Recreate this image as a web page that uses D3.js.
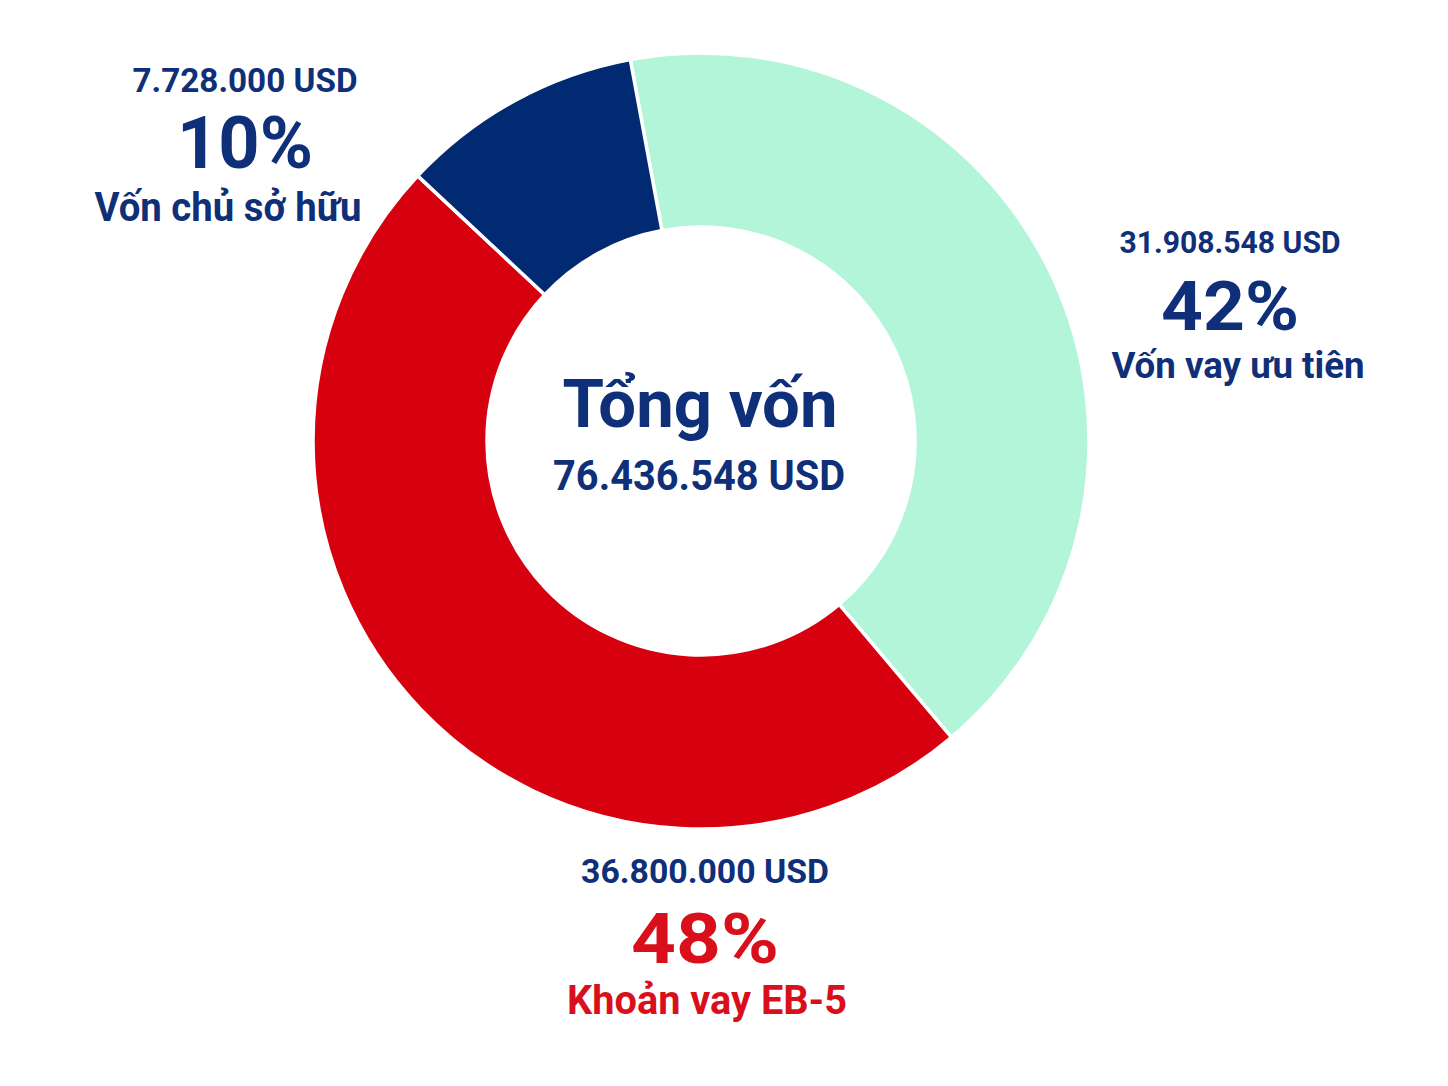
<!DOCTYPE html>
<html>
<head>
<meta charset="utf-8">
<script src="https://cdn.jsdelivr.net/npm/d3@7"></script>
<style>
  html, body { margin: 0; padding: 0; background: #ffffff; }
  svg { display: block; }
  text { font-family: Roboto, "Noto Sans", "DejaVu Sans", sans-serif; font-weight: 700; }
</style>
</head>
<body>
<div id="chart"></div>
<script>
// chart data
const categories = ["Vốn vay ưu tiên", "Khoản vay EB-5", "Vốn chủ sở hữu"];
const amounts = [31908548, 36800000, 7728000];
const amountLabels = ["31.908.548 USD", "36.800.000 USD", "7.728.000 USD"];
const percentLabels = ["42%", "48%", "10%"];
const totalTitle = "Tổng vốn";
const totalLabel = "76.436.548 USD";

// layout
const width = 1448, height = 1086;
const cx = 701, cy = 441;
const outerR = 388, innerR = 214;
const startDeg = -10.5;

const colors = ["#b3f5d9", "#d6000f", "#022a72"];
const navy = "#0f2f78";
const red = "#d9101c";

// label blocks, one per slice
const labelLayout = [
    { x: 1230, amountY: 253, percentY: 330, nameY: 378, amountW: 221, percentW: 138, nameW: 253, nameX: 1238, amountSize: 31, percentSize: 68, nameSize: 36, color: navy },
    { x: 705, amountY: 883, percentY: 963, nameY: 1014, amountW: 248, percentW: 148, nameW: 280, nameX: 707, amountSize: 34, percentSize: 70, nameSize: 40, color: red },
    { x: 245, amountY: 92, percentY: 168, nameY: 221, amountW: 225, percentW: 136, nameW: 267, nameX: 228, amountSize: 34, percentSize: 72, nameSize: 41, color: navy }
];

const svg = d3.select("#chart")
    .append("svg")
    .attr("width", width)
    .attr("height", height)
    .attr("viewBox", `0 0 ${width} ${height}`);

svg.append("rect")
    .attr("width", width)
    .attr("height", height)
    .attr("fill", "#ffffff");

const start = startDeg * Math.PI / 180;
const pie = d3.pie()
    .sort(null)
    .value(d => d)
    .startAngle(start)
    .endAngle(start + 2 * Math.PI);

const arc = d3.arc()
    .innerRadius(innerR)
    .outerRadius(outerR);

const donut = svg.append("g")
    .attr("transform", `translate(${cx},${cy})`);

donut.selectAll("path")
    .data(pie(amounts))
    .enter()
    .append("path")
    .attr("d", arc)
    .attr("fill", (d, i) => colors[i])
    .attr("stroke", "#ffffff")
    .attr("stroke-width", 3.5)
    .attr("stroke-linejoin", "miter");

// slice labels
const labels = svg.append("g").attr("class", "labels");

categories.forEach((name, i) => {
    const L = labelLayout[i];

    labels.append("text")
        .attr("x", L.x)
        .attr("y", L.amountY)
        .attr("text-anchor", "middle")
        .attr("fill", navy)
        .attr("font-size", L.amountSize)
        .attr("textLength", L.amountW)
        .attr("lengthAdjust", "spacingAndGlyphs")
        .text(amountLabels[i]);

    labels.append("text")
        .attr("x", L.x)
        .attr("y", L.percentY)
        .attr("text-anchor", "middle")
        .attr("fill", L.color)
        .attr("font-size", L.percentSize)
        .attr("font-weight", 900)
        .attr("textLength", L.percentW)
        .attr("lengthAdjust", "spacingAndGlyphs")
        .text(percentLabels[i]);

    labels.append("text")
        .attr("x", L.nameX)
        .attr("y", L.nameY)
        .attr("text-anchor", "middle")
        .attr("fill", L.color)
        .attr("font-size", L.nameSize)
        .attr("textLength", L.nameW)
        .attr("lengthAdjust", "spacingAndGlyphs")
        .text(name);
});

// center total
svg.append("text")
    .attr("x", 700)
    .attr("y", 427)
    .attr("text-anchor", "middle")
    .attr("fill", navy)
    .attr("font-size", 66)
    .attr("textLength", 275)
    .attr("lengthAdjust", "spacingAndGlyphs")
    .text(totalTitle);

svg.append("text")
    .attr("x", 699)
    .attr("y", 490)
    .attr("text-anchor", "middle")
    .attr("fill", navy)
    .attr("font-size", 42)
    .attr("textLength", 292)
    .attr("lengthAdjust", "spacingAndGlyphs")
    .text(totalLabel);
</script>
</body>
</html>
